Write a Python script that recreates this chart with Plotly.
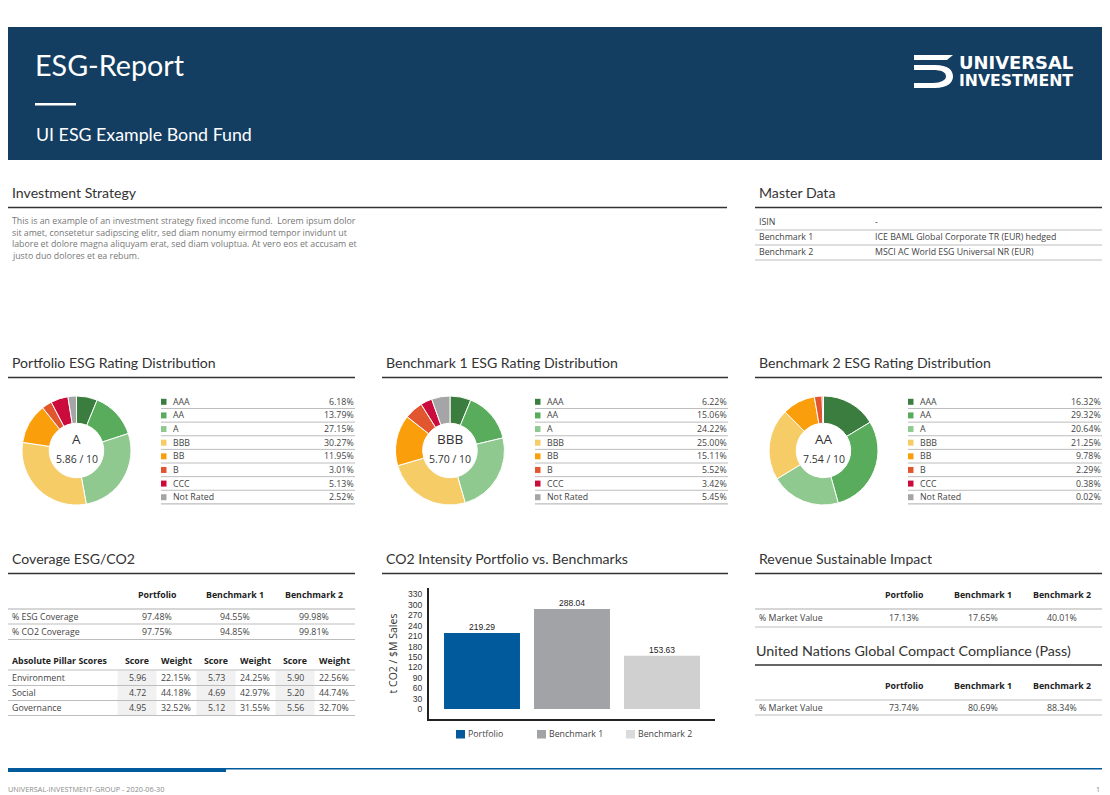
import plotly.graph_objects as go

W, H = 1110, 795

# Rating distributions
ratings = ['AAA', 'AA', 'A', 'BBB', 'BB', 'B', 'CCC', 'Not Rated']
rating_colors = ['#3A7D3E', '#58AC5B', '#90C98F', '#F5CC66', '#FB9E0B', '#E2562F', '#CC0B3D', '#A5A5A8']
portfolio_shares = [6.18, 13.79, 27.15, 30.27, 11.95, 3.01, 5.13, 2.52]
benchmark1_shares = [6.22, 15.06, 24.22, 25.00, 15.11, 5.52, 3.42, 5.45]
benchmark2_shares = [16.32, 29.32, 20.64, 21.25, 9.78, 2.29, 0.38, 0.02]

# Table columns
group_names = ['Portfolio', 'Benchmark 1', 'Benchmark 2']
esg_coverage = [97.48, 94.55, 99.98]
co2_coverage = [97.75, 94.85, 99.81]
pillar_names = ['Environment', 'Social', 'Governance']
pillar_scores = [[5.96, 5.73, 5.90], [4.72, 4.69, 5.20], [4.95, 5.12, 5.56]]
pillar_weights = [[22.15, 24.25, 22.56], [44.18, 42.97, 44.74], [32.52, 31.55, 32.70]]
revenue_impact = [17.13, 17.65, 40.01]
ungc_compliance = [73.74, 80.69, 88.34]

# CO2 bars
co2_intensity = [219.29, 288.04, 153.63]
co2_colors = ['#005A9C', '#A2A3A6', '#D0D0D0']
co2_ticks = [0, 30, 60, 90, 120, 150, 180, 210, 240, 270, 300, 330]

master_labels = ['ISIN', 'Benchmark 1', 'Benchmark 2']
master_values = ['-', 'ICE BAML Global Corporate TR (EUR) hedged', 'MSCI AC World ESG Universal NR (EUR)']

strategy_lines = [
    'This is an example of an investment strategy fixed income fund.  Lorem ipsum dolor',
    'sit amet, consetetur sadipscing elitr, sed diam nonumy eirmod tempor invidunt ut',
    'labore et dolore magna aliquyam erat, sed diam voluptua. At vero eos et accusam et',
    'justo duo dolores et ea rebum.',
]

FONT = 'Open Sans'
HEAD_FONT = 'Lato'
DARK = '#333333'
TEXT = '#444444'
NAVY = '#133E62'
BLUE = '#005A9C'

annotations = []
shapes = []


# pixel helpers, y is measured from the top of the page
def px(x):
    return x / W


def py(y):
    return 1 - y / H


def txt(x, y, text, size=8.8, color=TEXT, anchor='left', family=FONT, bold=False):
    annotations.append(dict(
        x=px(x), y=py(y), xref='paper', yref='paper', text=f'<b>{text}</b>' if bold else text,
        showarrow=False, xanchor=anchor, yanchor='middle', borderpad=0,
        font=dict(size=size, color=color, family=family),
    ))


def rect(x0, y0, x1, y1, color):
    shapes.append(dict(type='rect', xref='paper', yref='paper', layer='below',
                       x0=px(x0), x1=px(x1), y0=py(y0), y1=py(y1),
                       fillcolor=color, line=dict(width=0)))


def rule(x0, x1, y, color='#BDBDBD', width=1):
    shapes.append(dict(type='line', xref='paper', yref='paper', layer='below',
                       x0=px(x0), x1=px(x1), y0=py(y), y1=py(y),
                       line=dict(color=color, width=width)))


def heading(x0, x1, y, text):
    txt(x0 + 3, y - 0.5, text, size=14.1, color='#333333', family=HEAD_FONT)
    rule(x0, x1, y + 14.5, color=DARK, width=1.6)


def logo_path(points):
    out = []
    for p in points:
        if isinstance(p, str):
            out.append(p)
        else:
            out.append(f'{px(p[0]):.5f},{py(p[1]):.5f}')
    return ' '.join(out)


fig = go.Figure()

# Banner
rect(8, 27, 1102, 160, NAVY)
txt(34, 65, 'ESG-Report', size=28.7, color='white', family=HEAD_FONT)
rect(35, 103, 76, 105.5, 'white')
txt(34.5, 134, 'UI ESG Example Bond Fund', size=17.8, color='white', family=HEAD_FONT)

# Logo mark
for pts in [
    ['M', (914, 55), 'L', (953, 55), 'L', (947, 60), 'L', (914, 60), 'Z'],
    ['M', (914, 65), 'L', (935, 65), 'C', (948, 65), (953, 70), (953, 76.5), 'C', (953, 83), (947, 88), (935, 88),
     'L', (914, 88), 'L', (914, 83), 'L', (933, 83), 'C', (941, 83), (946, 80), (946, 76.5),
     'C', (946, 72), (941, 70), (933, 70), 'L', (914, 70), 'Z'],
]:
    shapes.append(dict(type='path', xref='paper', yref='paper', path=logo_path(pts),
                       fillcolor='white', line=dict(width=0)))
txt(1074, 63, 'UNIVERSAL', size=17.9, color='white', anchor='right', family='DejaVu Sans', bold=True)
txt(1074, 80.5, 'INVESTMENT', size=15.7, color='white', anchor='right', family='DejaVu Sans', bold=True)

# Investment strategy
heading(8, 727, 193, 'Investment Strategy')
for i, line in enumerate(strategy_lines):
    txt(11, 221 + i * 11.6, line, size=8.8, color='#777777')

# Master data
heading(755, 1102, 193, 'Master Data')
for i, label in enumerate(master_labels):
    y = 222 + i * 15
    txt(758, y, label)
    txt(874.5, y, master_values[i])
    rule(755, 1102, y + 8)

# Rating donuts and legends
panels = [
    (8, 355, 'Portfolio ESG Rating Distribution', portfolio_shares, 76.5, 'A', '5.86 / 10', 161),
    (382, 728, 'Benchmark 1 ESG Rating Distribution', benchmark1_shares, 450, 'BBB', '5.70 / 10', 535),
    (755, 1102, 'Benchmark 2 ESG Rating Distribution', benchmark2_shares, 823.5, 'AA', '7.54 / 10', 908),
]
for x0, x1, title, shares, cx, grade, score, lx in panels:
    heading(x0, x1, 363, title)
    fig.add_trace(go.Pie(
        labels=ratings, values=shares, hole=0.5, sort=False, direction='clockwise', rotation=0,
        marker=dict(colors=rating_colors, line=dict(color='white', width=1)),
        textinfo='none', hoverinfo='label+value', showlegend=False,
        domain=dict(x=[px(cx - 54.5), px(cx + 54.5)], y=[py(505), py(396)]),
    ))
    txt(cx, 439, grade, size=13.5, color=DARK, anchor='center')
    txt(cx, 458.5, score, size=10.5, color=DARK, anchor='center')
    for i, rating in enumerate(ratings):
        y = 401.8 + i * 13.63
        rect(lx, y - 3, lx + 5.5, y + 3, rating_colors[i])
        txt(lx + 11, y, rating)
        txt(x1 - 0.5, y, f'{shares[i]:.2f}%', anchor='right')
        rule(lx, x1, y + 6.7, width=1.2 if i == 7 else 1)

# Coverage table
heading(8, 355, 559, 'Coverage ESG/CO2')
cov_centers = [157, 235, 314]
for cx, name in zip(cov_centers, group_names):
    txt(cx, 595, name, color='#222222', anchor='center', bold=True)
rule(8, 355, 609, color='#C8C8C8', width=1.6)
for y, label, vals in [(616.5, '% ESG Coverage', esg_coverage), (632, '% CO2 Coverage', co2_coverage)]:
    txt(11, y, label)
    for cx, v in zip(cov_centers, vals):
        txt(cx, y, f'{v:.2f}%', anchor='center')
    rule(8, 355, y + 7.5)

# Pillar scores
score_centers = [137, 216, 295]
weight_centers = [176, 255, 334]
txt(11, 661, 'Absolute Pillar Scores', color='#222222', bold=True)
for cx in score_centers:
    rect(cx - 19.5, 670.5, cx + 19.5, 715, '#F1F1F1')
    txt(cx, 661, 'Score', color='#222222', anchor='center', bold=True)
for cx in weight_centers:
    txt(cx, 661, 'Weight', color='#222222', anchor='center', bold=True)
rule(8, 355, 670)
for i, name in enumerate(pillar_names):
    y = 678 + i * 15
    txt(11, y, name)
    for j in range(3):
        txt(score_centers[j], y, f'{pillar_scores[i][j]:.2f}', anchor='center')
        txt(weight_centers[j], y, f'{pillar_weights[i][j]:.2f}%', anchor='center')
    rule(8, 355, y + 7.5)

# CO2 intensity chart
heading(382, 728, 559, 'CO2 Intensity Portfolio vs. Benchmarks')
fig.add_trace(go.Bar(
    x=group_names, y=co2_intensity, marker=dict(color=co2_colors, line=dict(width=0)),
    showlegend=False, hoverinfo='x+y',
))
for name, v in zip(group_names, co2_intensity):
    annotations.append(dict(x=name, y=v, xref='x', yref='y', text=f'{v:.2f}', showarrow=False,
                            xanchor='center', yanchor='bottom', borderpad=0,
                            font=dict(family='Liberation Sans', size=8.5, color='#222222')))
legend_x = [456, 537, 626]
legend_colors = [co2_colors[0], co2_colors[1], '#DADADA']
for lx, name, color in zip(legend_x, group_names, legend_colors):
    rect(lx, 730, lx + 9, 738.5, color)
    txt(lx + 11, 734, name)

# Revenue and UN compact tables
impact_centers = [904, 983, 1062]
heading(755, 1102, 559, 'Revenue Sustainable Impact')
for cx, name, v in zip(impact_centers, group_names, revenue_impact):
    txt(cx, 594.5, name, color='#222222', anchor='center', bold=True)
    txt(cx, 618, f'{v:.2f}%', anchor='center')
rule(755, 1102, 609, color='#C8C8C8', width=1.6)
txt(758, 618, '% Market Value')
rule(755, 1102, 627)

txt(755, 650, 'United Nations Global Compact Compliance (Pass)', size=14.3, color='#333333', family=HEAD_FONT)
rule(755, 1102, 665, color=DARK, width=1.6)
for cx, name, v in zip(impact_centers, group_names, ungc_compliance):
    txt(cx, 686, name, color='#222222', anchor='center', bold=True)
    txt(cx, 708, f'{v:.2f}%', anchor='center')
rule(755, 1102, 700)
txt(758, 708, '% Market Value')
rule(755, 1102, 715)

# Footer
rect(8, 768, 226, 772, BLUE)
rule(226, 1102, 768.8, color=BLUE, width=1.4)
txt(7, 789, 'UNIVERSAL-INVESTMENT-GROUP - 2020-06-30', size=7.3, color='#8A8A8A')
txt(1101, 789, '1', size=7.3, color='#8A8A8A', anchor='right')

fig.update_layout(
    width=W, height=H, autosize=False, margin=dict(l=0, r=0, t=0, b=0),
    paper_bgcolor='white', plot_bgcolor='white', showlegend=False, bargap=0.156,
    annotations=annotations, shapes=shapes,
    xaxis=dict(domain=[px(429), px(715)], type='category', range=[-0.589, 2.589], showticklabels=False,
               ticks='', showgrid=False, zeroline=False, showline=True, linecolor='#222222', linewidth=2),
    yaxis=dict(domain=[py(719), py(588)], range=[-28.8, 348.7], tickvals=co2_ticks, ticks='', showgrid=False,
               zeroline=False, showline=True, linecolor='#222222', linewidth=2, ticklabelstandoff=3,
               tickfont=dict(family='Liberation Sans', size=8.5, color='#333333'),
               title=dict(text='t CO2 / $M Sales', standoff=8, font=dict(family=FONT, size=10.5, color=DARK))),
)

fig.write_html("out.html", config=dict(displayModeBar=False), post_script="document.body.style.margin='0px';")
